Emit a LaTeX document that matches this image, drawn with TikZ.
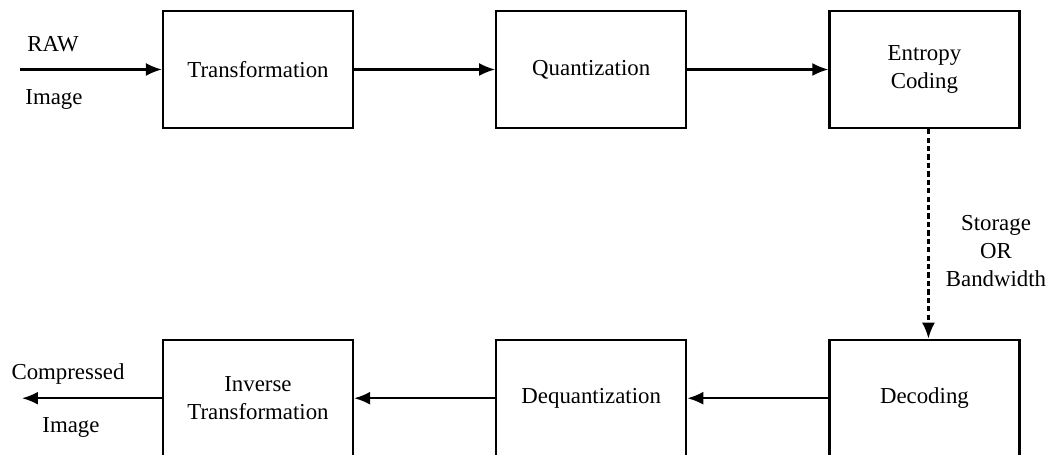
\documentclass[tikz,border=0pt]{standalone}
\usepackage{fontspec}
\setmainfont{Liberation Serif}
\usetikzlibrary{positioning, arrows.meta}
\tikzset{
	>={Latex[length=3.2mm,width=2.6mm]}, % Puntas de flecha rellenas
	block/.style={draw, line width=1.3pt, minimum width=3.8cm, minimum height=2.34cm, align=center, inner sep=0pt}, % Cajas del proceso
	flow/.style={->, line width=1.2pt}, % Flechas entre cajas
	lbl/.style={align=center, inner sep=0pt} % Textos sueltos
}

\begin{document}
\begin{tikzpicture}[x=0.02cm, y=-0.02cm, font=\fontsize{13}{16}\selectfont, node distance=2.82cm]
	\useasboundingbox (0,0) rectangle (1051,455);
	% Compresion
	\node[block] (trans) at (258,69.5) {Transformation};
	\node[block, right=of trans] (quant) {Quantization};
	\node[block, right=of quant] (entropy) {Entropy\\Coding};
	% Descompresion
	\node[block, below=4.19cm of entropy] (decod) {Decoding};
	\node[block, below=4.19cm of quant] (dequant) {Dequantization};
	\node[block, below=4.19cm of trans] (invtrans) {Inverse\\Transformation};
	% Entrada y salida
	\coordinate (inx) at (20,0);
	\coordinate (outx) at (22,0);
	\coordinate (rawin) at (trans.west -| inx);
	\coordinate (compout) at (invtrans.west -| outx);
	\node[lbl] (rawlbl) at (53,44) {RAW};
	\node[lbl] (imglbl) at (54,99) {Image};
	\node[lbl] (complbl) at (68,374) {Compressed};
	\node[lbl] (outlbl) at (71,427) {Image};
	\node[lbl] (storlbl) at (996,251) {Storage\\OR\\Bandwidth};
	% Conexiones
	\draw[flow] (rawin) -- (trans);
	\draw[flow] (trans) -- (quant);
	\draw[flow] (quant) -- (entropy);
	\draw[flow, dash pattern=on 3pt off 1.8pt] ([xshift=0.08cm]entropy.south) -- ([xshift=0.08cm]decod.north);
	\draw[flow] (decod) -- (dequant);
	\draw[flow] (dequant) -- (invtrans);
	\draw[flow] (invtrans) -- (compout);
\end{tikzpicture}
\end{document}
